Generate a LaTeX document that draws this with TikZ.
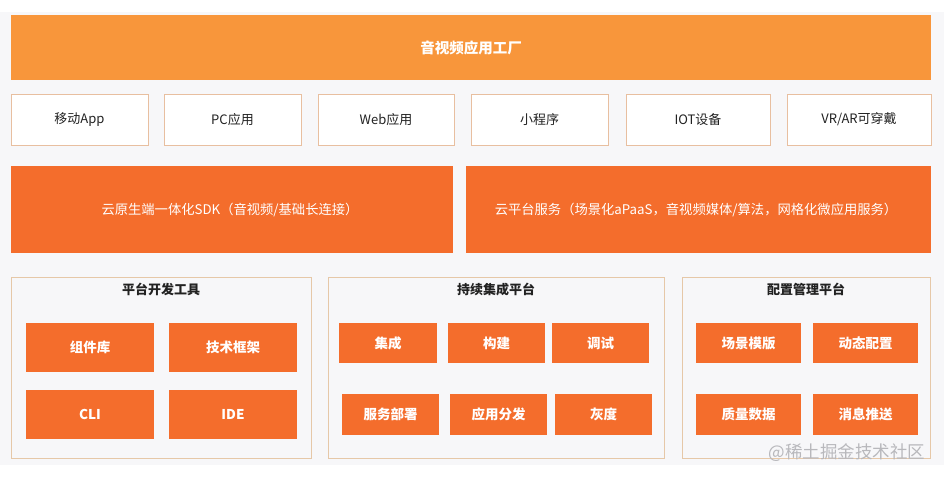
\documentclass[tikz,border=0pt]{standalone}
\usepackage{fontspec}
\setmainfont{Noto Sans CJK SC}
\definecolor{topor}{HTML}{F8963B}
\definecolor{deepor}{HTML}{F46D2C}
\definecolor{boxline}{HTML}{E8BFA0}
\definecolor{panline}{HTML}{E6C8A8}
\definecolor{bggray}{HTML}{F7F7F9}
\definecolor{txt}{HTML}{222222}
\definecolor{wm}{HTML}{B8B8BC}
\tikzset{
  app/.style={draw=boxline, line width=0.8pt, fill=white},
  apptext/.style={text=txt, font=\fontsize{13}{15}\selectfont},
  cloudtext/.style={text=white, font=\fontsize{13.3}{15}\selectfont},
  panel/.style={draw=panline, line width=0.8pt, fill=bggray},
  ptitle/.style={text=txt, font=\fontsize{13}{15}\selectfont\bfseries},
  innertext/.style={text=white, font=\fontsize{13.5}{15}\selectfont\bfseries},
}
\begin{document}
\begin{tikzpicture}[x=1pt,y=-1pt]
\useasboundingbox (0,0) rectangle (944,479);
\fill[white] (0,0) rectangle (944,479);
\fill[bggray] (0,12) rectangle (944,465);
% top bar
\fill[topor] (11,15) rectangle (931,80);
\node[text=white, font=\fontsize{14.5}{16}\selectfont\bfseries] (top) at (471,47.5) {音视频应用工厂};
% app row
\foreach \a/\b/\t/\n in {11/148/{移动App}/a1,164/301/{PC应用}/a2,318/454/{Web应用}/a3,471/608/{小程序}/a4,626/770/{IOT设备}/a5,787/931/{VR/AR可穿戴}/a6}{
  \draw[app] (\a,94) rectangle (\b,145);
  \node[apptext] (\n) at ({(\a+\b)/2},119.5) {\t};
}
% cloud row
\fill[deepor] (11,166) rectangle (453,253);
\node[cloudtext] (sdk) at (230,209.5) {云原生端一体化SDK（音视频/基础长连接）};
\fill[deepor] (466,166) rectangle (931,253);
\node[cloudtext] (cloud) at (696,209.5) {云平台服务（场景化aPaaS，音视频媒体/算法，网格化微应用服务）};
% panels
\draw[panel] (11,277) rectangle (311,458);
\draw[panel] (328,277) rectangle (664,458);
\draw[panel] (682,277) rectangle (930,458);
\node[ptitle] (p1) at (161,289) {平台开发工具};
\node[ptitle] (p2) at (496,289) {持续集成平台};
\node[ptitle] (p3) at (806,289) {配置管理平台};
% inner boxes
\foreach \a/\b/\c/\d/\t/\n in {
  26/154/323/372/组件库/i1, 169/297/323/372/技术框架/i2,
  26/154/390/439/CLI/i3, 169/297/390/439/IDE/i4,
  339/437/323/363/集成/j1, 448/545/323/363/构建/j2, 552/649/323/363/调试/j3,
  342/439/394/435/服务部署/j4, 450/547/394/435/应用分发/j5, 555/652/394/435/灰度/j6,
  696/801/323/363/场景模版/k1, 813/918/323/363/动态配置/k2,
  696/801/394/435/质量数据/k3, 813/918/394/435/消息推送/k4}{
  \fill[deepor] (\a,\c) rectangle (\b,\d);
  \node[innertext] (\n) at ({(\a+\b)/2},{(\c+\d)/2}) {\t};
}
% watermark
\node[text=wm, font=\fontsize{17.5}{19}\selectfont, anchor=east] (wmk) at (929,453) {@稀土掘金技术社区};
\end{tikzpicture}
\end{document}
